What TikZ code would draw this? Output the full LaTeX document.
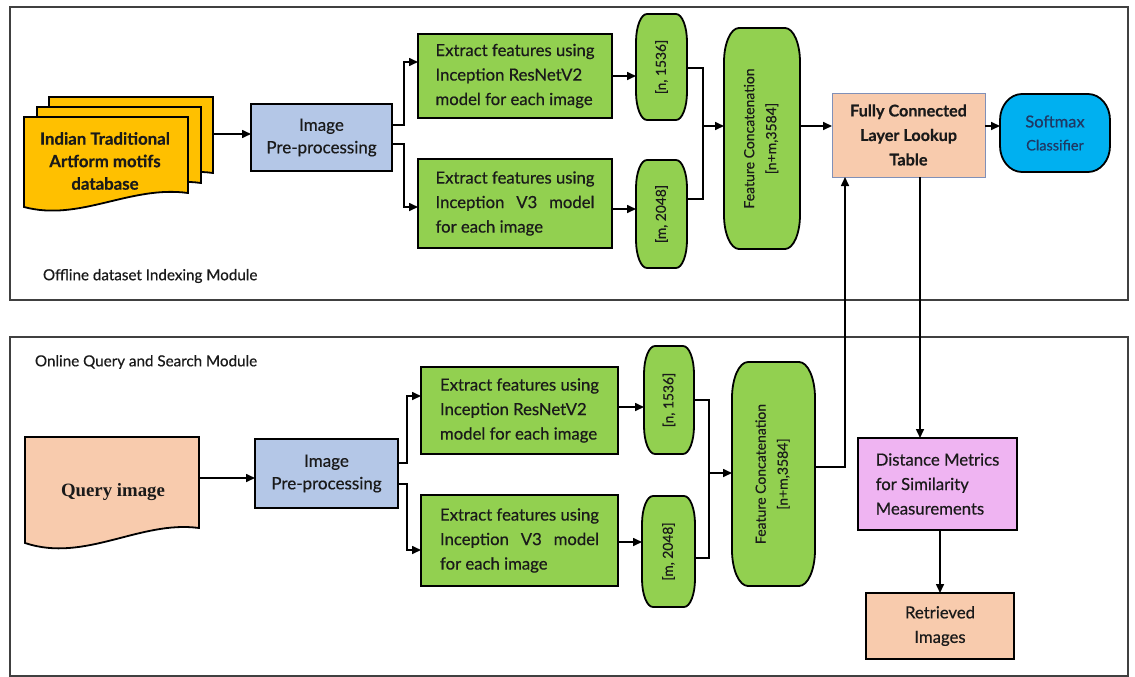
\documentclass[tikz,border=0pt]{standalone}
\usepackage{fontspec}
\setmainfont{Lato}[FakeBold=0.5]
\newfontfamily\serifb{Liberation Serif}
\usepackage{calc}
\usetikzlibrary{arrows.meta,calc}
\pgfdeclarelayer{bg}
\pgfsetlayers{bg,main}
\definecolor{dbyel}{HTML}{FFC000}
\definecolor{grn}{HTML}{92D050}
\definecolor{preblue}{HTML}{B4C7E7}
\definecolor{peach}{HTML}{F8CBAD}
\definecolor{smblue}{HTML}{00B0F0}
\definecolor{pinkbox}{HTML}{EFB4F2}
\definecolor{fcedge}{HTML}{8090B8}
\definecolor{framec}{HTML}{404040}
\definecolor{txt}{HTML}{1A1A1A}
\definecolor{smtxt}{HTML}{1F3864}
\newcommand\fntmain{\fontsize{16.7}{24.5}\selectfont}
\newcommand\fntpre{\fontsize{17}{22.5}\selectfont}
\newcommand\fntpill{\fontsize{13.8}{16}\selectfont}
\newcommand\fntcat{\fontsize{14}{16}\selectfont}
\newcommand\fntlab{\fontsize{15.2}{18}\selectfont}
\newcommand\ellshape[4]{%
  \begin{pgfonlayer}{bg}
  \draw[#4] ([xshift=#2]#1.north west) -- ([xshift=-#2]#1.north east)
    arc[start angle=90,end angle=0,x radius=#2,y radius=#3]
    -- ([yshift=#3]#1.south east)
    arc[start angle=0,end angle=-90,x radius=#2,y radius=#3]
    -- ([xshift=#2]#1.south west)
    arc[start angle=270,end angle=180,x radius=#2,y radius=#3]
    -- ([yshift=-#3]#1.north west)
    arc[start angle=180,end angle=90,x radius=#2,y radius=#3] -- cycle;
  \end{pgfonlayer}}
\tikzset{
  base/.style={inner sep=0pt, outer sep=0pt, text=txt},
  sz/.style 2 args={minimum width=#1pt, minimum height=#2pt},
  rbox/.style={base, draw=black, line width=1.8pt, align=center, font=\fntmain},
  greenbox/.style={rbox, fill=grn, align=left},
  prebox/.style={rbox, fill=preblue, font=\fntpre},
  shapenode/.style={base, align=center},
  shapeline/.style={draw=black, line width=1.8pt},
  docst/.style={draw=black, line width=1.8pt, line join=miter},
  arr/.style={line width=1.6pt, -{Triangle[length=9pt,width=8pt]}},
  conn/.style={line width=1.6pt},
  modframe/.style={draw=framec, line width=1.4pt},
  modlabel/.style={base, anchor=west, font=\fntlab}
}
\begin{document}
\begin{tikzpicture}[x=1pt,y=-1pt]
\useasboundingbox (0,0) rectangle (1135,677);
\begin{pgfonlayer}{bg}
\fill[white] (0,0) rectangle (1135,677);
\end{pgfonlayer}
% module frames
\draw[modframe] (10,7) rectangle (1128,300);
\draw[modframe] (10,337) rectangle (1128,676);
\node[modlabel] (offl) at (43,276) {Offline dataset Indexing Module};
\node[modlabel] (onl) at (35,362) {Online Query and Search Module};

% ---------- database stack
\foreach \dx/\dy in {25/-20,13/-10,0/0}{
  \draw[docst, fill=dbyel, shift={(\dx,\dy)}] (24,117) -- (188,117) -- (188,193)
    .. controls (130,185) and (80,222) .. (24,207) -- cycle;
}
\node[base, align=center, font=\fontsize{16.8}{22.5}\selectfont\bfseries] (db) at (105,161) {Indian Traditional\\Artform motifs\\database};
\coordinate (dbout) at (213,134);

% ---------- top row
\node[prebox, sz={141}{67}] (pre1) at (321.5,137.5) {Image\\Pre-processing};
\node[greenbox, sz={194}{84}] (ex1) at (515,76) {Extract features using\\Inception ResNetV2\\model for each image};
\node[greenbox, sz={194}{89}] (ex2) at (515,203.5) {Extract features using\\\makebox[\widthof{Extract features using}][s]{Inception V3 model}\\for each image};
\node[shapenode, sz={51}{106}, font=\fntpill] (p1) at (661.5,67) {\rotatebox{90}{[n, 1536]}};
\node[shapenode, sz={51}{108}, font=\fntpill] (p2) at (661.5,214) {\rotatebox{90}{[m, 2048]}};
\node[shapenode, sz={76}{221}, font=\fntcat] (cat1) at (762,138.5) {\rotatebox{90}{\begin{tabular}{@{}c@{}}Feature Concatenation\\[6pt]{[n+m,3584]}\end{tabular}}};
\node[base, draw=fcedge, line width=1pt, fill=peach, align=center, sz={153}{84}, font=\fontsize{16.2}{24.5}\selectfont\bfseries] (fc) at (908.5,135) {Fully Connected\\Layer Lookup\\Table};
\node[shapenode, sz={110}{78}, text=smtxt, font=\fontsize{16.5}{23}\selectfont] (sm) at (1055,133) {Softmax\\{\fontsize{14.5}{18}\selectfont Classifier}};
\ellshape{p1}{11pt}{28pt}{shapeline, fill=grn}
\ellshape{p2}{11pt}{28pt}{shapeline, fill=grn}
\ellshape{cat1}{15pt}{34pt}{shapeline, fill=grn}
\ellshape{sm}{22pt}{26pt}{shapeline, fill=smblue}

% ---------- bottom row
\draw[docst, fill=peach] (25,437) -- (199,437) -- (199,528)
    .. controls (140,520) and (85,563) .. (25,543) -- cycle;
\node[base, font=\fontsize{18.8}{22}\selectfont\serifb\bfseries] (qi) at (113,492) {Query image};
\coordinate (qout) at (199,478);
\node[prebox, sz={143}{69}] (pre2) at (326.5,473.5) {Image\\Pre-processing};
\node[greenbox, sz={197}{87}] (ex3) at (519.5,410.5) {Extract features using\\Inception ResNetV2\\model for each image};
\node[greenbox, sz={197}{91}] (ex4) at (519.5,540.5) {Extract features using\\\makebox[\widthof{Extract features using}][s]{Inception V3 model}\\for each image};
\node[shapenode, sz={50}{108}, font=\fntpill] (p3) at (669,400) {\rotatebox{90}{[n, 1536]}};
\node[shapenode, sz={53}{111}, font=\fntpill] (p4) at (668.5,551.5) {\rotatebox{90}{[m, 2048]}};
\node[shapenode, sz={83}{224}, font=\fntcat] (cat2) at (773.5,474) {\rotatebox{90}{\begin{tabular}{@{}c@{}}Feature Concatenation\\[6pt]{[n+m,3584]}\end{tabular}}};
\ellshape{p3}{11pt}{28pt}{shapeline, fill=grn}
\ellshape{p4}{11pt}{28pt}{shapeline, fill=grn}
\ellshape{cat2}{16pt}{36pt}{shapeline, fill=grn}
\node[rbox, fill=pinkbox, align=left, sz={159}{92}] (dm) at (937.5,484) {Distance Metrics\\for Similarity\\Measurements};
\node[rbox, fill=peach, sz={148}{66}] (ri) at (940,626) {Retrieved\\Images};

% ---------- connectors top
\draw[arr] (dbout) -- (dbout -| pre1.west);
\draw[arr] ([yshift=12.5pt]pre1.east) -- ++(12,0) |- ([yshift=14pt]ex1.west);
\draw[arr] ([yshift=-6.5pt]pre1.east) -- ++(12,0) |- ([yshift=-3.5pt]ex2.west);
\draw[arr] (ex1.east) -- (ex1.east -| p1.west);
\draw[arr] ([yshift=-5.5pt]ex2.east) -- ([yshift=-5.5pt]ex2.east -| p2.west);
\coordinate (j1) at (703,126);
\draw[conn] ([yshift=-1pt]p1.east) -| (j1) |- ([yshift=15pt]p2.east);
\draw[arr] (j1) -- (j1 -| cat1.west);
\draw[arr] ([yshift=12.5pt]cat1.east) -- ([yshift=12.5pt]cat1.east -| fc.west);
\draw[arr] ([yshift=9pt]fc.east) -- ([yshift=9pt]fc.east -| sm.west);
% connectors bottom
\draw[arr] (qout) -- (qout -| pre2.west);
\draw[arr] ([yshift=10.5pt]pre2.east) -- ++(9,0) |- ([yshift=14.5pt]ex3.west);
\draw[arr] ([yshift=-10.5pt]pre2.east) -- ++(9,0) |- ([yshift=-9.5pt]ex4.west);
\draw[arr] ([yshift=3.5pt]ex3.east) -- ([yshift=3.5pt]ex3.east -| p3.west);
\draw[arr] ([yshift=-1.5pt]ex4.east) -- ([yshift=-1.5pt]ex4.east -| p4.west);
\coordinate (j2) at (709,473);
\draw[conn] (p3.east) -| (j2) |- ([yshift=-6.5pt]p4.east);
\draw[arr] (j2) -- (j2 -| cat2.west);
\draw[arr] ([yshift=7pt]cat2.east) -| ([xshift=-63.5pt]fc.south);
\draw[arr] ([xshift=11.5pt]fc.south) -- ([xshift=11.5pt]fc.south |- dm.north);
\draw[arr] ([xshift=2.5pt]dm.south) -- ([xshift=2.5pt]dm.south |- ri.north);
\end{tikzpicture}
\end{document}
